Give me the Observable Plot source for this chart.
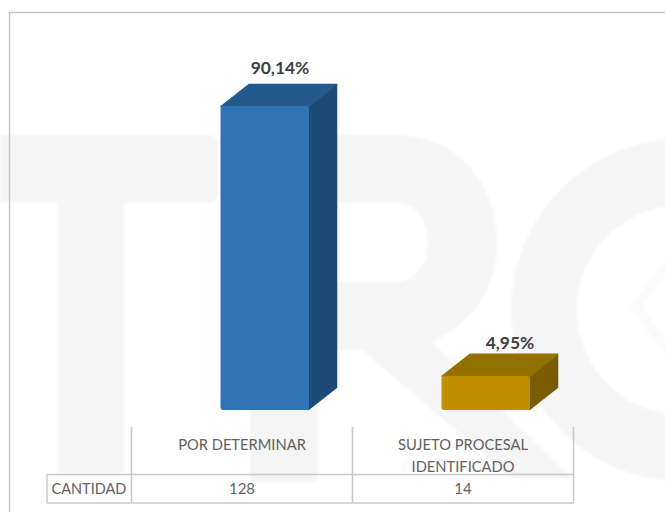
<!DOCTYPE html>
<html>
<head>
<meta charset="utf-8">
<style>
html,body{margin:0;padding:0;background:#fff}
svg{display:block}
</style>
<script src="https://cdn.jsdelivr.net/npm/d3@7"></script>
<script src="https://cdn.jsdelivr.net/npm/@observablehq/plot@0.6"></script>
</head>
<body>
<div id="chart"></div>
<script>
const categories = ["POR DETERMINAR", "SUJETO PROCESAL\nIDENTIFICADO"];
const counts = [128, 14];
const percentLabels = ["90,14%", "4,95%"];
const rowLabel = "CANTIDAD";
const frontColors = ["#2e75b6", "#bf8f00"];
const topColors = ["#245a8e", "#937000"];
const sideColors = ["#1c4a75", "#7a5c00"];

const rows = categories.map((c, i) => ({c, n: counts[i], pct: percentLabels[i], i}));

const W = 665, H = 512;
const barInsetL = 90, barW = 87.5, bandW = 221, depthX = 28, depthY = 22;
const GRID = "#c8c8c8";
const TEXT = "#616161";
const FONT = "Lato, 'Open Sans', sans-serif";

function svgEl(name, attrs) {
  const e = document.createElementNS("http://www.w3.org/2000/svg", name);
  for (const k in attrs) e.setAttribute(k, attrs[k]);
  return e;
}

// faint watermark lettering behind the chart
function watermark() {
  const g = svgEl("g", {style: "filter:blur(1px)"});
  g.append(svgEl("path", {fill: "#f5f5f5", "fill-rule": "evenodd", d:
    "M0 135H208Q218 135 218 145V193Q218 203 208 203H124V473H57V203H0Z" +
    "M250 135H395C455 135 497 180 497 243C497 290 470 325 432 342L572 478H512L362 350H317V482H250Z" +
    "M317 203V282H395C415 282 428 265 428 243C428 220 415 203 395 203Z" +
    "M682 139A171 171 0 1 0 682 481A171 171 0 1 0 682 139Z" +
    "M682 205A105 105 0 1 1 682 415A105 105 0 1 1 682 205Z"}));
  g.append(svgEl("path", {fill: "none", stroke: "#fafafa", "stroke-width": 10, d: "M672 258L636 307L672 356"}));
  return g;
}

// 3-D top and side faces, placed through the chart's scales
function faces(index, {x, y}) {
  const g = svgEl("g", {});
  for (const r of rows) {
    const l = x(r.c) + barInsetL, ri = l + barW, t = y(r.n), b = y(0);
    g.append(svgEl("path", {fill: sideColors[r.i], stroke: sideColors[r.i], "stroke-width": 1.5, "stroke-linejoin": "round",
      d: `M${ri} ${t}L${ri + depthX} ${t - depthY}V${b - depthY}L${ri} ${b}Z`}));
    g.append(svgEl("path", {fill: topColors[r.i], stroke: topColors[r.i], "stroke-width": 1.5, "stroke-linejoin": "round",
      d: `M${l} ${t}L${l + depthX} ${t - depthY}H${ri + depthX}L${ri} ${t}Z`}));
  }
  return g;
}

// the data table under the bars, aligned on the band scale
function tableGrid(index, {x}) {
  const g = svgEl("g", {fill: "none", stroke: GRID});
  const left = x(categories[0]);
  const edges = [left, ...categories.map(c => x(c) + bandW)];
  for (const e of edges) g.append(svgEl("line", {x1: e + 0.5, x2: e + 0.5, y1: 427, y2: 503, "stroke-width": 1.6}));
  g.append(svgEl("line", {x1: 47, x2: 47, y1: 474.5, y2: 503, "stroke-width": 1.4}));
  for (const yy of [474.5, 503]) g.append(svgEl("line", {x1: 47, x2: edges[2] + 1, y1: yy, y2: yy, "stroke-width": 1.4}));
  return g;
}

function outerFrame() {
  return svgEl("path", {fill: "none", stroke: "#c4c4c4", "stroke-width": 1.4, d: `M${W} 12.5H9.5V${H}`});
}

const plot = Plot.plot({
  width: W, height: H,
  margin: 0,
  style: {background: "#fff", fontFamily: FONT, overflow: "hidden"},
  x: {type: "band", domain: categories, range: [130.5, 572.5], padding: 0, axis: null},
  y: {domain: [0, 128], range: [409.5, 106.5], axis: null},
  color: {type: "ordinal", domain: categories, range: frontColors},
  marks: [
    watermark,
    outerFrame,
    faces,
    Plot.barY(rows, {x: "c", y: "n", fill: "c", stroke: "c", strokeWidth: 1,
      insetLeft: barInsetL, insetRight: bandW - barInsetL - barW, rx: 2}),
    tableGrid,
    Plot.text(rows.slice(0, 1), {x: "c", y: "n", text: "pct", dx: 38, dy: -39, fontSize: 17.4, fontWeight: 700, fill: "#404040"}),
    Plot.text(rows.slice(1), {x: "c", y: "n", text: "pct", dx: 47, dy: -33, fontSize: 17.4, fontWeight: 700, fill: "#404040"}),
    Plot.text(rows, {x: "c", text: "c", frameAnchor: "top", lineAnchor: "top", dy: 434, fontSize: 14.7, lineHeight: 1.5, fill: TEXT}),
    Plot.text(rows, {x: "c", text: "n", frameAnchor: "top", lineAnchor: "top", dy: 483, fontSize: 15, fill: TEXT}),
    Plot.text([rowLabel], {frameAnchor: "top-left", lineAnchor: "top", textAnchor: "start", dx: 51, dy: 483, fontSize: 14.5, fill: TEXT})
  ]
});
document.getElementById("chart").append(plot);
</script>
</body>
</html>
